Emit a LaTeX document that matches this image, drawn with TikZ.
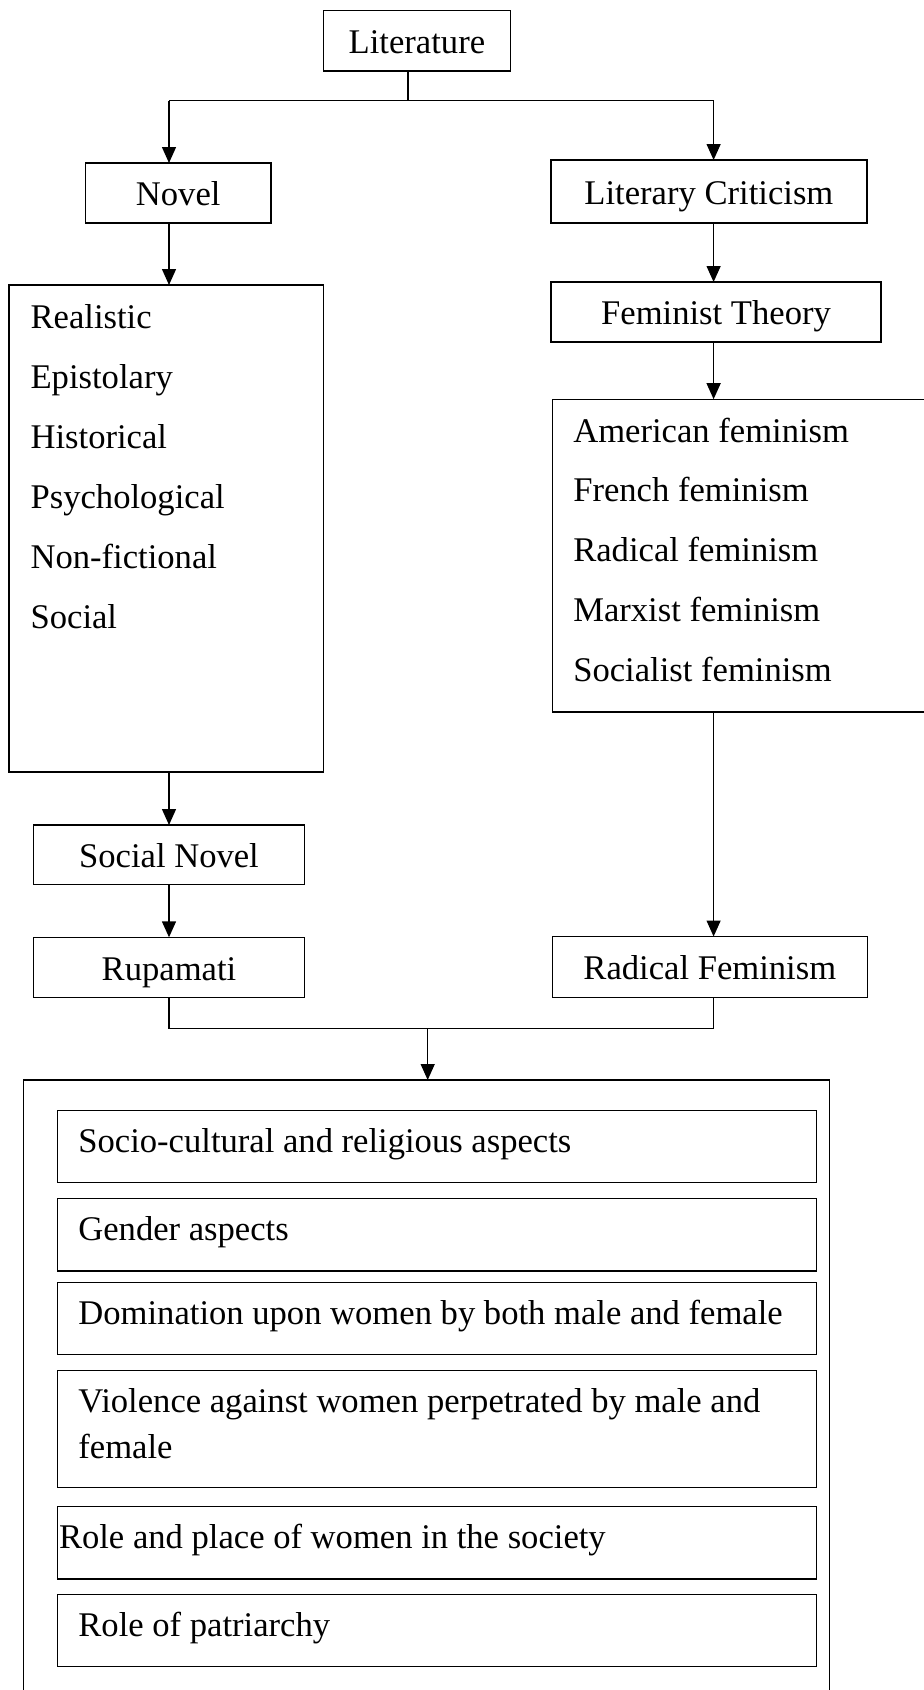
\documentclass[tikz,border=0pt]{standalone}
\usepackage{fontspec}
\setmainfont{Liberation Serif}
\usetikzlibrary{arrows.meta}
\newcommand{\bigfs}{\fontsize{34.6}{41}\selectfont}
\tikzset{
  box/.style={draw, line width=1.4pt, rectangle, inner sep=0pt, outer sep=0pt,
    text height=25pt, text depth=0pt, font=\bigfs},
  frame/.style={draw, line width=1.4pt, rectangle, inner sep=0pt, outer sep=0pt, anchor=north west},
  arr/.style={line width=1.4pt, -{Triangle[length=16pt,width=14pt]}},
  ln/.style={line width=1.4pt},
  txt/.style={anchor=base west, inner sep=0pt, outer sep=0pt, font=\bigfs},
}
\begin{document}
\begin{tikzpicture}[x=1pt,y=-1pt]
\fill[white] (0,0) rectangle (924,1690);
\clip (0,0) rectangle (924,1690);

% top level boxes
\node[box, minimum width=186.8pt, minimum height=60.3pt] (lit) at (416.9,40.85) {Literature};
\node[box, minimum width=185.6pt, minimum height=60pt] (novel) at (178.2,193) {Novel};
\node[box, minimum width=315.8pt, minimum height=63pt] (crit) at (708.9,191.5) {Literary Criticism};
\node[box, minimum width=330pt, minimum height=60pt] (theory) at (716,312) {Feminist Theory};

% genres box
\node[frame, minimum width=314.6pt, minimum height=487pt] (genres) at (9,285) {};
\node[txt] (g1) at (30.6,328.3) {Realistic};
\node[txt] (g2) at (30.6,388.3) {Epistolary};
\node[txt] (g3) at (30.6,448.3) {Historical};
\node[txt] (g4) at (30.6,508.3) {Psychological};
\node[txt] (g5) at (30.6,568.3) {Non-fictional};
\node[txt] (g6) at (30.6,628.3) {Social};

% feminism box (runs off right edge)
\node[frame, minimum width=420pt, minimum height=312.6pt] (fem) at (552.3,399.2) {};
\node[txt] (f1) at (573.3,442.2) {American feminism};
\node[txt] (f2) at (573.3,501.9) {French feminism};
\node[txt] (f3) at (573.3,561.6) {Radical feminism};
\node[txt] (f4) at (573.3,621.3) {Marxist feminism};
\node[txt] (f5) at (573.3,681) {Socialist feminism};

\node[box, minimum width=270.6pt, minimum height=59.7pt] (social) at (169,854.85) {Social Novel};
\node[box, minimum width=270.6pt, minimum height=60.4pt] (rupa) at (169,967.5) {Rupamati};
\node[box, minimum width=315pt, minimum height=61.1pt] (radfem) at (709.8,967.05) {Radical Feminism};

% big outcome box (runs off bottom edge)
\node[frame, minimum width=806.4pt, minimum height=650pt] (big) at (23.3,1080) {};
\node[frame, minimum width=759pt, minimum height=72.3pt] (b1) at (57.7,1110.4) {};
\node[frame, minimum width=759pt, minimum height=72.2pt] (b2) at (57.7,1198.6) {};
\node[frame, minimum width=759pt, minimum height=72.3pt] (b3) at (57.7,1282.2) {};
\node[frame, minimum width=759pt, minimum height=117.2pt] (b4) at (57.7,1370.4) {};
\node[frame, minimum width=759pt, minimum height=72.3pt] (b5) at (57.7,1506.7) {};
\node[frame, minimum width=759pt, minimum height=71.8pt] (b6) at (57.7,1594.5) {};
\node[txt] (t1) at (78.4,1152.5) {Socio-cultural and religious aspects};
\node[txt] (t2) at (78.4,1240.7) {Gender aspects};
\node[txt] (t3) at (78.4,1324.3) {Domination upon women by both male and female};
\node[txt] (t4a) at (78.4,1412.5) {Violence against women perpetrated by male and};
\node[txt] (t4b) at (78.4,1458.5) {female};
\node[txt] (t5) at (59,1548.8) {Role and place of women in the society};
\node[txt] (t6) at (78.4,1636.6) {Role of patriarchy};

% connectors
\coordinate (split) at (407.8,100.7);
\coordinate (splitL) at (169,100.7);
\coordinate (splitR) at (713.6,100.7);
\coordinate (colL) at (169,0);
\coordinate (colR) at (713.6,0);
\coordinate (merge) at (427.7,1028.3);

\draw[ln] (split |- lit.south) -- (split);
\draw[ln] (splitL) -- (splitR);
\draw[arr] (splitL) -- (splitL |- novel.north);
\draw[arr] (splitR) -- (splitR |- crit.north);
\draw[arr] (colL |- novel.south) -- (colL |- genres.north);
\draw[arr] (colR |- crit.south) -- (colR |- theory.north);
\draw[arr] (colR |- theory.south) -- (colR |- fem.north);
\draw[arr] (colL |- genres.south) -- (colL |- social.north);
\draw[arr] (colL |- social.south) -- (colL |- rupa.north);
\draw[arr] (colR |- fem.south) -- (colR |- radfem.north);
\draw[ln] (colL |- rupa.south) |- (colR |- merge) -- (colR |- radfem.south);
\draw[arr] (merge) -- (merge |- big.north);
\end{tikzpicture}
\end{document}
